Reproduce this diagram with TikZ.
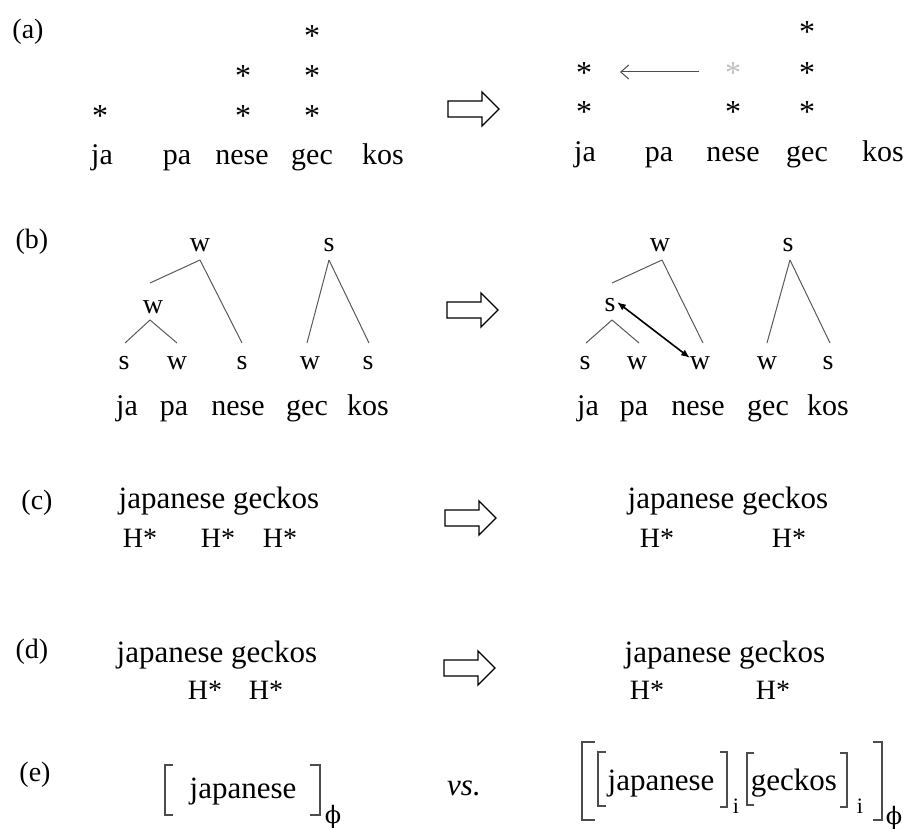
\documentclass[tikz,border=0pt]{standalone}
\usepackage{fontspec}
\setmainfont{Liberation Serif}
\newfontfamily\phifont{DejaVu Serif}
\usetikzlibrary{arrows.meta,calc}
\begin{document}
\begin{tikzpicture}[x=1pt,y=-1pt,
  lab/.style={font=\fontsize{28}{32}\selectfont, inner sep=0pt},
  syl/.style={font=\fontsize{30}{34}\selectfont, inner sep=0pt, anchor=base},
  star/.style={font=\fontsize{32}{36}\selectfont, inner sep=0pt, anchor=base},
  lf/.style={font=\fontsize{28}{32}\selectfont, inner sep=0pt},
  branch/.style={draw=black!65, line width=1pt},
  phr/.style={font=\fontsize{31}{36}\selectfont, inner sep=0pt, anchor=base},
  hs/.style={font=\fontsize{28}{32}\selectfont, inner sep=0pt, anchor=base},
  brk/.style={draw=black!70, line width=1.3pt},
  sub/.style={font=\fontsize{22}{26}\selectfont, inner sep=0pt},
  phisub/.style={font=\fontsize{24}{28}\selectfont\phifont, inner sep=0pt},
  hollow/.pic={\draw[line width=1.4pt, line join=miter, fill=white] (0,-8) -- (34,-8) -- (34,-17) -- (51,0) -- (34,17) -- (34,8) -- (0,8) -- cycle;}
]
\useasboundingbox (0,0) rectangle (906,832);

% ---------------- (a)
\node[lab] (la) at (28,32) {(a)};
\node[star] (aja1) at (100,127) {*};
\node[star] (ane1) at (243,87) {*};
\node[star] (ane2) at (243,127) {*};
\node[star] (age1) at (312,47) {*};
\node[star] (age2) at (312,87) {*};
\node[star] (age3) at (312,127) {*};
\node[syl] (wja) at (102,165) {ja};
\node[syl] (wpa) at (177,165) {pa};
\node[syl] (wne) at (242,165) {nese};
\node[syl] (wge) at (312,165) {gec};
\node[syl] (wko) at (383,165) {kos};
\pic at (448,109) {hollow};
\node[star] (bja1) at (584,84) {*};
\node[star] (bja2) at (584,123) {*};
\node[star, text=black!25] (bgray) at (733,84) {*};
\node[star] (bne2) at (733,123) {*};
\node[star] (bge1) at (807,43) {*};
\node[star] (bge2) at (807,84) {*};
\node[star] (bge3) at (807,123) {*};
\coordinate (mvS) at ($(bgray.base)+(-34,-12)$);
\coordinate (mvE) at ($(bja1.base)+(36,-12)$);
\draw[draw=black!70, line width=1pt, -{Straight Barb[length=8pt,width=14pt]}] (mvS) -- (mvE);
\node[syl] (vja) at (585,162) {ja};
\node[syl] (vpa) at (659,162) {pa};
\node[syl] (vne) at (733,162) {nese};
\node[syl] (vge) at (807,162) {gec};
\node[syl] (vko) at (883,162) {kos};

% ---------------- (b)
\node[lab] (lb) at (32,242) {(b)};
\node[lf] (tw) at (200,245) {w};
\node[lf] (ts) at (329,245) {s};
\node[lf] (mw) at (153,307) {w};
\node[lf] (l1) at (124,363) {s};
\node[lf] (l2) at (177,363) {w};
\node[lf] (l3) at (242,363) {s};
\node[lf] (l4) at (310,363) {w};
\node[lf] (l5) at (368,363) {s};
\draw[branch] ($(tw)+(0,15)$) -- ($(mw)+(-3,-24)$);
\draw[branch] ($(tw)+(0,15)$) -- ($(l3)+(0,-20)$);
\draw[branch] ($(mw)+(-3,13)$) -- ($(l1)+(1,-20)$);
\draw[branch] ($(mw)+(-3,13)$) -- ($(l2)+(0,-20)$);
\draw[branch] ($(ts)+(0,15)$) -- ($(l4)+(-3,-20)$);
\draw[branch] ($(ts)+(0,15)$) -- ($(l5)+(1,-20)$);
\node[syl] (xja) at (127,415) {ja};
\node[syl] (xpa) at (174,415) {pa};
\node[syl] (xne) at (238,415) {nese};
\node[syl] (xge) at (307,415) {gec};
\node[syl] (xko) at (368,415) {kos};
\pic at (447,310) {hollow};
\node[lf] (tw2) at (660,245) {w};
\node[lf] (ts2) at (788,245) {s};
\node[lf] (ms2) at (610,305) {s};
\node[lf] (r1) at (585,363) {s};
\node[lf] (r2) at (637,363) {w};
\node[lf] (r3) at (700,363) {w};
\node[lf] (r4) at (767,363) {w};
\node[lf] (r5) at (828,363) {s};
\draw[branch] ($(tw2)+(2,15)$) -- ($(ms2)+(2,-22)$);
\draw[branch] ($(tw2)+(2,15)$) -- ($(r3)+(3,-20)$);
\draw[branch] ($(ms2)+(2,15)$) -- ($(r1)+(1,-20)$);
\draw[branch] ($(ms2)+(2,15)$) -- ($(r2)+(2,-20)$);
\draw[branch] ($(ts2)+(2,15)$) -- ($(r4)+(0,-20)$);
\draw[branch] ($(ts2)+(2,15)$) -- ($(r5)+(2,-20)$);
\draw[line width=1.6pt, {Latex[length=9pt,width=7pt]}-{Latex[length=9pt,width=7pt]}] ($(ms2)+(7,-3)$) -- ($(r3)+(-10,-5)$);
\node[syl] (yja) at (588,415) {ja};
\node[syl] (ypa) at (634,415) {pa};
\node[syl] (yne) at (698,415) {nese};
\node[syl] (yge) at (768,415) {gec};
\node[syl] (yko) at (828,415) {kos};

% ---------------- (c)
\node[lab] (lc) at (37,503) {(c)};
\node[phr] (c1) at (219,508) {japanese geckos};
\node[hs] (ch1) at (140,547) {H*};
\node[hs] (ch2) at (218,547) {H*};
\node[hs] (ch3) at (280,547) {H*};
\pic at (445,518) {hollow};
\node[phr] (c2) at (728,508) {japanese geckos};
\node[hs] (ch4) at (657,547) {H*};
\node[hs] (ch5) at (789,547) {H*};

% ---------------- (d)
\node[lab] (ld) at (32,652) {(d)};
\node[phr] (d1) at (217,662) {japanese geckos};
\node[hs] (dh1) at (205,699) {H*};
\node[hs] (dh2) at (266,699) {H*};
\pic at (444,668) {hollow};
\node[phr] (d2) at (725,662) {japanese geckos};
\node[hs] (dh3) at (647,699) {H*};
\node[hs] (dh4) at (773,699) {H*};

% ---------------- (e)
\node[lab] (le) at (35,775) {(e)};
\draw[brk] (173,765) -- (165,765) -- (165,815) -- (173,815);
\node[phr] (e1) at (243,798) {japanese};
\draw[brk] (310,765) -- (320,765) -- (320,815) -- (310,815);
\node[phisub] (ph1) at (333,817) {ϕ};
\node[phr, font=\fontsize{31}{36}\selectfont\itshape] (vs) at (464,795) {vs.};
\draw[brk] (595,742) -- (582,742) -- (582,820) -- (595,820);
\draw[brk] (606,752) -- (598,752) -- (598,806) -- (606,806);
\node[phr] (e2) at (661,790) {japanese};
\draw[brk] (720,752) -- (727,752) -- (727,807) -- (720,807);
\node[sub] (i1) at (736,806) {i};
\draw[brk] (754,753) -- (747,753) -- (747,805) -- (754,805);
\node[phr] (e3) at (794,790) {geckos};
\draw[brk] (840,753) -- (847,753) -- (847,807) -- (840,807);
\node[sub] (i2) at (860,806) {i};
\draw[brk] (873,742) -- (882,742) -- (882,820) -- (873,820);
\node[phisub] (ph2) at (894,818) {ϕ};
\end{tikzpicture}
\end{document}
